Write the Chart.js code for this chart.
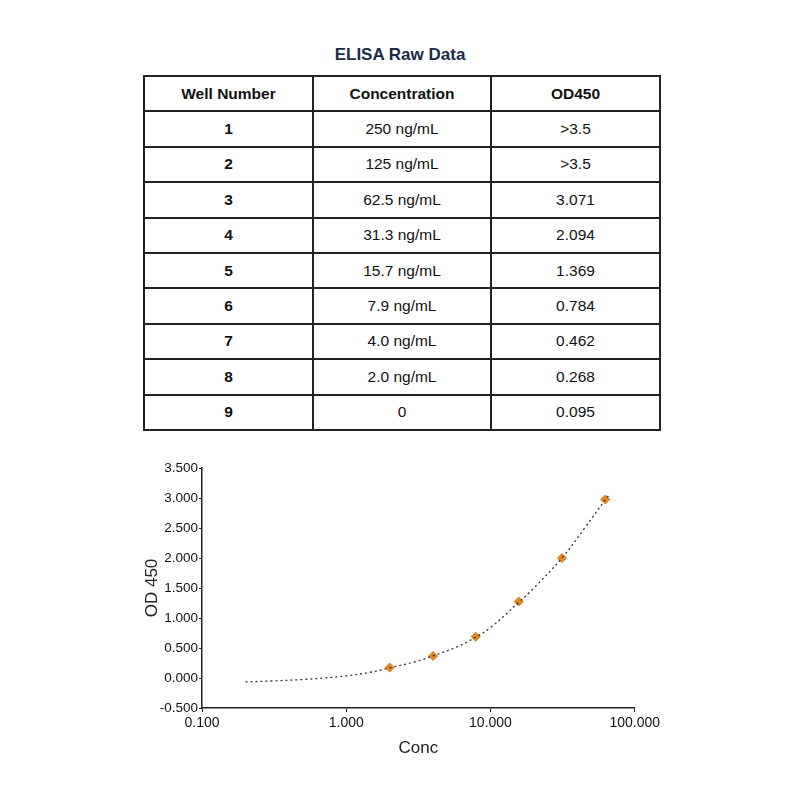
<!DOCTYPE html>
<html>
<head>
<meta charset="utf-8">
<script src="https://cdn.jsdelivr.net/npm/chart.js@4.4.1/dist/chart.umd.min.js"></script>
<style>
  body { margin: 0; background: #fff; font-family: "Liberation Sans", Arial, sans-serif; }
  #title { position: absolute; left: 0; width: 800px; top: 45px; text-align: center;
           font-weight: bold; font-size: 17px; color: #1c2a48; }
  table { position: absolute; left: 143px; top: 75px; width: 516px; height: 354px;
          border-collapse: collapse; table-layout: fixed; font-size: 15.5px; color: #111; }
  tr { height: 35.4px; }
  td, th { border: 2px solid #222; text-align: center; padding: 0; }
  th { font-weight: bold; }
  td:first-child { font-weight: bold; }
  #wrap { position: absolute; left: 138px; top: 455px; width: 525px; height: 308px; }
</style>
</head>
<body>
<div id="title">ELISA Raw Data</div>
<table id="raw">
  <colgroup><col style="width:169px"><col style="width:178px"><col style="width:169px"></colgroup>
  <tbody id="rows"></tbody>
</table>
<div id="wrap"><canvas id="myChart"></canvas></div>
<script>
// table data
const headers = ['Well Number', 'Concentration', 'OD450'];
const wells = ['1', '2', '3', '4', '5', '6', '7', '8', '9'];
const concLabels = ['250 ng/mL', '125 ng/mL', '62.5 ng/mL', '31.3 ng/mL', '15.7 ng/mL',
                    '7.9 ng/mL', '4.0 ng/mL', '2.0 ng/mL', '0'];
const odLabels = ['>3.5', '>3.5', '3.071', '2.094', '1.369', '0.784', '0.462', '0.268', '0.095'];

// standard points (blank subtracted)
const stdConc = [2.0, 4.0, 7.9, 15.7, 31.3, 62.5];
const stdOD = [0.173, 0.367, 0.689, 1.274, 1.999, 2.976];

// fitted curve
const fitConc = [0.2, 0.3, 0.5, 0.7, 1.0, 1.5, 2.0, 3.0, 4.0, 6.0, 7.9, 10, 15.7, 20, 31.3, 45, 62.5, 66];
const fitOD = [-0.065, -0.05, -0.025, 0.0, 0.035, 0.10, 0.17, 0.27, 0.37, 0.53, 0.68, 0.84, 1.26, 1.50, 2.00, 2.50, 2.97, 3.04];

const yTicks = [-0.5, 0, 0.5, 1, 1.5, 2, 2.5, 3, 3.5];
const xTicks = [0.1, 1, 10, 100];

// build the table
const rows = document.getElementById('rows');
const headRow = rows.insertRow();
headers.forEach(h => {
  const th = document.createElement('th');
  th.textContent = h;
  headRow.appendChild(th);
});
wells.forEach((w, i) => {
  const tr = rows.insertRow();
  [w, concLabels[i], odLabels[i]].forEach(t => { tr.insertCell().textContent = t; });
});

Chart.defaults.font.family = '"Liberation Sans", Arial, sans-serif';
Chart.defaults.color = '#111';

const ctx = document.getElementById('myChart').getContext('2d');
const chart = new Chart(ctx, {
  type: 'scatter',
  data: {
    datasets: [{
      label: 'Fit',
      data: fitConc.map((c, i) => ({x: c, y: fitOD[i]})),
      showLine: true,
      borderColor: '#333',
      borderWidth: 1.3,
      borderDash: [2, 3],
      pointRadius: 0,
      tension: 0.4
    }, {
      label: 'Standards',
      data: stdConc.map((c, i) => ({x: c, y: stdOD[i]})),
      pointStyle: 'rectRot',
      pointRadius: 4.5,
      backgroundColor: '#e8871e',
      borderColor: '#d9781a',
      borderWidth: 1
    }]
  },
  options: {
    responsive: true,
    maintainAspectRatio: false,
    animation: false,
    layout: { padding: { top: 13, right: 0, left: 0, bottom: 0 } },
    plugins: { legend: { display: false }, tooltip: { enabled: false } },
    scales: {
      x: {
        type: 'logarithmic',
        min: 0.1,
        max: 100,
        afterBuildTicks: s => { s.ticks = xTicks.map(v => ({value: v})); },
        afterFit: s => { s.height = 55; },
        ticks: { callback: v => Number(v).toFixed(3), font: { size: 14 }, color: '#111', padding: 3, maxRotation: 0 },
        grid: { drawOnChartArea: false, drawTicks: true, tickLength: 4, color: '#222' },
        border: { display: true, color: '#222', width: 1.5 },
        title: { display: true, text: 'Conc', font: { size: 17 }, color: '#222', padding: { top: 4 } }
      },
      y: {
        min: -0.5,
        max: 3.5,
        afterBuildTicks: s => { s.ticks = yTicks.map(v => ({value: v})); },
        afterFit: s => { s.width = 64; },
        ticks: { callback: v => Number(v).toFixed(3), font: { size: 13.5 }, color: '#111', padding: 1 },
        grid: { drawOnChartArea: false, drawTicks: true, tickLength: 3, color: '#222' },
        border: { display: true, color: '#222', width: 1.5 },
        title: { display: true, text: 'OD 450', font: { size: 17 }, color: '#222', padding: { bottom: 2 } }
      }
    }
  }
});
</script>
</body>
</html>
